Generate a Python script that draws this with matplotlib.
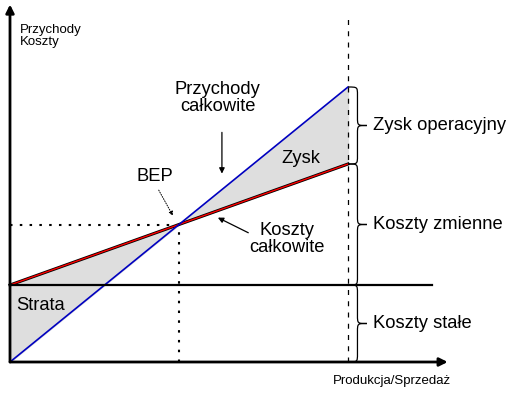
import matplotlib
matplotlib.use("Agg")
from matplotlib import pyplot as plt
from matplotlib.path import Path
from matplotlib.patches import PathPatch
import numpy as np

plt.rcParams['font.family'] = ['Liberation Sans', 'DejaVu Sans']

# Dane (jednostki umowne)
quantity = [0, 100]
revenue = [0, 100]
fixed_costs = 28
total_costs = [28, 72]

q = np.array(quantity, dtype=float)
rev = np.array(revenue, dtype=float)
cost = np.array(total_costs, dtype=float)

# Punkt progu rentownosci
slope_r = (rev[1] - rev[0]) / (q[1] - q[0])
slope_c = (cost[1] - cost[0]) / (q[1] - q[0])
bep_q = (cost[0] - rev[0]) / (slope_r - slope_c)
bep_v = rev[0] + slope_r * bep_q

fig = plt.figure(figsize=(5.18, 3.93), dpi=100)
ax = fig.add_axes([0, 0, 1, 1])
ax.set_xlim(-10 / 3.38, 508 / 3.38)
ax.set_ylim(-31 / 2.75, 362 / 2.75)
ax.axis('off')

# Wypelnienie zysk / strata
ax.fill_between(q, rev, cost, color='#dedede', zorder=1)

# Osie
ax.annotate('', xy=(129.5, 0), xytext=(0, 0),
            arrowprops=dict(arrowstyle='-|>', color='black', lw=2,
                            mutation_scale=12, shrinkA=0, shrinkB=0), zorder=5)
ax.annotate('', xy=(0, 130), xytext=(0, 0),
            arrowprops=dict(arrowstyle='-|>', color='black', lw=2,
                            mutation_scale=12, shrinkA=0, shrinkB=0), zorder=5)

# Koszty stale
ax.plot([0, 125], [fixed_costs, fixed_costs], color='black', lw=1.6, zorder=4)

# Linie przychodow i kosztow
ax.plot(q, cost, color='black', lw=2.2, zorder=3)
ax.plot(q, cost, color='#ff0000', lw=1.0, zorder=3)
ax.plot(q, rev, color='#0000c0', lw=1.2, zorder=3)

# Linie pomocnicze
ax.plot([0, bep_q], [bep_v, bep_v], color='black', lw=1.5, ls=(0, (1.2, 3.5)), zorder=2)
ax.plot([bep_q, bep_q], [0, bep_v], color='black', lw=1.5, ls=(0, (1.2, 3.5)), zorder=2)
ax.plot([q[1], q[1]], [0, 126.5], color='black', lw=0.9, ls=(0, (4, 5)), zorder=2)


def klamra(x, y0, y1, w=5.6, h=3.0):
    ym = (y0 + y1) / 2
    xm = x + w / 2
    verts = [(x, y1),
             (xm, y1), (xm, y1), (xm, y1 - h),
             (xm, ym + h),
             (xm, ym), (xm, ym), (x + w, ym),
             (xm, ym), (xm, ym), (xm, ym - h),
             (xm, y0 + h),
             (xm, y0), (xm, y0), (x, y0)]
    codes = [Path.MOVETO,
             Path.CURVE4, Path.CURVE4, Path.CURVE4,
             Path.LINETO,
             Path.CURVE4, Path.CURVE4, Path.CURVE4,
             Path.CURVE4, Path.CURVE4, Path.CURVE4,
             Path.LINETO,
             Path.CURVE4, Path.CURVE4, Path.CURVE4]
    ax.add_patch(PathPatch(Path(verts, codes), fill=False, lw=0.9,
                           edgecolor='black', zorder=4))


klamra(q[1], cost[1], rev[1])
klamra(q[1], fixed_costs, cost[1])
klamra(q[1], 0, fixed_costs)

fs = 13.2
ax.text(107.5, (cost[1] + rev[1]) / 2, 'Zysk operacyjny', fontsize=fs, va='center', ha='left')
ax.text(107.5, (fixed_costs + cost[1]) / 2, 'Koszty zmienne', fontsize=fs, va='center', ha='left')
ax.text(107.5, fixed_costs / 2, 'Koszty stałe', fontsize=fs, va='center', ha='left')

ax.text(86, 74, 'Zysk', fontsize=fs, ha='center', va='center')
ax.text(9.0, 20.5, 'Strata', fontsize=fs, ha='center', va='center')
ax.text(43, 67.5, 'BEP', fontsize=fs, ha='center', va='center')
ax.text(61.5, 96, 'Przychody\ncałkowite', fontsize=fs, ha='center', va='center',
        linespacing=1.0)
ax.text(82, 44.7, 'Koszty\ncałkowite', fontsize=fs, ha='center', va='center',
        linespacing=1.0)

ax.text(3, 123, 'Przychody\nKoszty', fontsize=9.5, ha='left', va='top',
        linespacing=1.05)
ax.text(95.5, -7, 'Produkcja/Sprzedaż', fontsize=9.5, ha='left', va='center')

# Strzalki do opisow
ax.annotate('', xy=(62.7, 68.5), xytext=(62.7, 83.5),
            arrowprops=dict(arrowstyle='-|>', color='black', lw=0.9,
                            mutation_scale=8, shrinkA=0, shrinkB=0))
ax.annotate('', xy=(61.5, 52.5), xytext=(70.5, 47.0),
            arrowprops=dict(arrowstyle='-|>', color='black', lw=0.9,
                            mutation_scale=8, shrinkA=0, shrinkB=0))
ax.annotate('', xy=(48.2, 53.2), xytext=(44.0, 62.5),
            arrowprops=dict(arrowstyle='-|>', color='black', lw=0.7, ls=(0, (1, 1.5)),
                            mutation_scale=6, shrinkA=0, shrinkB=0))

fig.savefig('out.png', dpi=100)
